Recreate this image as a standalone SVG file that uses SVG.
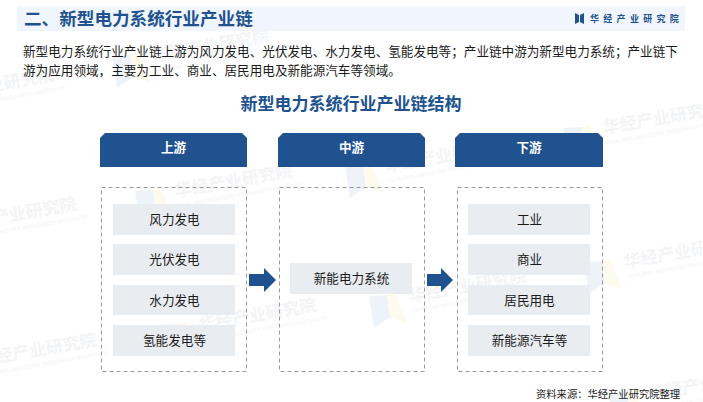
<svg xmlns="http://www.w3.org/2000/svg" width="703" height="402" viewBox="0 0 703 402">
<style>
text{font-family:"Noto Sans CJK SC","Liberation Sans",sans-serif}
.wm{font-size:17px;font-weight:700;fill:#f3f4f6}
.ws{font-size:6px;fill:#f6f7f8;font-family:"Liberation Sans",sans-serif;font-weight:700}
.lb{fill:#eef3fa}.ly{fill:#fefbee}
.hd{fill:#20528f}
.ht{font-size:12.6px;font-weight:700;fill:#fff;text-anchor:middle}
.dash{fill:#fff;fill-opacity:0;stroke:#999;stroke-width:1;stroke-dasharray:4 3}
.it{fill:#e9ecf1}
.tx{font-size:12.6px;fill:#1a1a1a;text-anchor:middle}
.ar{fill:#20528f}
</style>
<defs>
<g id="wm">
<polygon class="lb" points="-41,-6 -23,-7 -20,15 -36,26"/>
<polygon class="ly" points="-23,-7 -15,-9 -3,21 -20,15"/>
<text class="wm" x="0" y="0" transform="rotate(-10)">华经产业研究院</text>
<text class="ws" x="1" y="11" transform="rotate(-10)">HUAJING INDUSTRY RESEARCH INSTITUTE</text>
</g>
</defs>
<rect width="703" height="402" fill="#fff"/>
<g id="watermarks">
<use href="#wm" x="-62" y="101"/>
<use href="#wm" x="153" y="62"/>
<use href="#wm" x="176" y="197"/>
<use href="#wm" x="-40" y="230"/>
<use href="#wm" x="200" y="331"/>
<use href="#wm" x="-20" y="366"/>
<use href="#wm" x="386" y="172"/>
<use href="#wm" x="410" y="302"/>
<use href="#wm" x="604" y="134"/>
<use href="#wm" x="625" y="268"/>
<use href="#wm" x="650" y="400"/>
</g>
<g id="banner">
<rect x="17" y="6" width="668" height="25" fill="#f1f5fd"/>
<text x="24" y="25" font-size="17.6" font-weight="700" fill="#20528f">二、新型电力系统行业产业链</text>
<path d="M575 13l4 2v7l-4 2zM584 13l-4 2v7l4 2z" fill="#20528f"/>
<text x="590" y="22" font-size="9" font-weight="700" fill="#20528f" letter-spacing="4.3">华经产业研究院</text>
</g>
<g id="intro" font-size="12.6" fill="#1a1a1a">
<text x="23" y="56">新型电力系统行业产业链上游为风力发电、光伏发电、水力发电、氢能发电等；产业链中游为新型电力系统；产业链下</text>
<text x="23" y="75">游为应用领域，主要为工业、商业、居民用电及新能源汽车等领域。</text>
</g>
<text id="subtitle" x="351" y="110" font-size="17" font-weight="700" fill="#20528f" text-anchor="middle">新型电力系统行业产业链结构</text>
<g id="col-up">
<path class="hd" d="M100 167V138l5-5H242l5 5V167z"/>
<text class="ht" x="173.500" y="151.500">上游</text>
<rect class="dash" x="101.500" y="187.500" width="145" height="184"/>
</g>
<g id="col-mid">
<path class="hd" d="M278 167V138l5-5H420l5 5V167z"/>
<text class="ht" x="351.500" y="151.500">中游</text>
<rect class="dash" x="279.500" y="187.500" width="145" height="184"/>
</g>
<g id="col-down">
<path class="hd" d="M455 167V138l5-5H598l5 5V167z"/>
<text class="ht" x="529" y="151.500">下游</text>
<rect class="dash" x="457.500" y="187.500" width="145" height="184"/>
</g>
<g id="n1"><rect class="it" x="113" y="204" width="122" height="31"/><text class="tx" x="174.500" y="224">风力发电</text></g>
<g id="n2"><rect class="it" x="113" y="244" width="122" height="31"/><text class="tx" x="174.500" y="264">光伏发电</text></g>
<g id="n3"><rect class="it" x="113" y="285" width="122" height="30"/><text class="tx" x="174.500" y="305">水力发电</text></g>
<g id="n4"><rect class="it" x="113" y="325" width="122" height="31"/><text class="tx" x="174.500" y="345">氢能发电等</text></g>
<g id="n5"><rect class="it" x="290" y="263" width="122" height="31"/><text class="tx" x="351.500" y="283">新能电力系统</text></g>
<g id="n6"><rect class="it" x="468" y="204" width="122" height="31"/><text class="tx" x="529.500" y="224">工业</text></g>
<g id="n7"><rect class="it" x="468" y="244" width="122" height="31"/><text class="tx" x="529.500" y="264">商业</text></g>
<g id="n8"><rect class="it" x="468" y="285" width="122" height="30"/><text class="tx" x="529.500" y="305">居民用电</text></g>
<g id="n9"><rect class="it" x="468" y="325" width="122" height="31"/><text class="tx" x="529.500" y="345">新能源汽车等</text></g>
<g id="connectors">
<polygon class="ar" points="249,274 264,274 264,268 276,280 264,292 264,286 249,286"/>
<polygon class="ar" points="427,274 441,274 441,268 453,280 441,292 441,286 427,286"/>
</g>
<text id="source" x="536" y="398" font-size="10.300" fill="#1a1a1a">资料来源：华经产业研究院整理</text>
</svg>
